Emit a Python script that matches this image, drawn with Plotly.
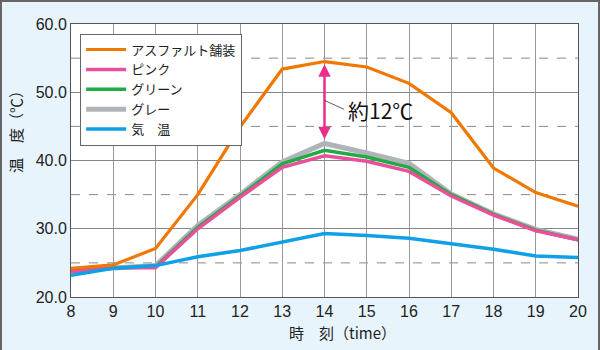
import plotly.graph_objects as go

hours = list(range(8, 21))
asphalt = [24.2, 24.7, 27.1, 35.0, 44.9, 53.4, 54.5, 53.7, 51.3, 47.0, 38.9, 35.3, 33.3]
pink = [23.7, 24.3, 24.3, 30.0, 34.6, 39.0, 40.7, 39.9, 38.4, 34.8, 32.0, 29.7, 28.4]
green = [23.8, 24.3, 24.4, 30.2, 34.8, 39.5, 41.5, 40.5, 39.0, 35.0, 32.1, 29.8, 28.4]
gray = [23.9, 24.3, 24.6, 30.5, 35.0, 39.8, 42.5, 41.1, 39.6, 35.1, 32.2, 29.9, 28.5]
air = [23.2, 24.2, 24.6, 25.9, 26.8, 28.1, 29.3, 29.0, 28.6, 27.8, 27.0, 26.0, 25.8]

names = ["アスファルト舗装", "ピンク", "グリーン", "グレー", "気　温"]
colors = ["#f07800", "#e8509a", "#22aa44", "#b0b4b8", "#10a0e8"]
widths = [3.2, 3.5, 3.5, 5, 3.5]
series = [asphalt, pink, green, gray, air]

yticks = [20, 30, 40, 50, 60]
yticklabels = ["20.0", "30.0", "40.0", "50.0", "60.0"]
dashed_levels = [25, 35, 45, 55]

fig = go.Figure()
draw_order = [3, 2, 1, 4, 0]
for i in draw_order:
    fig.add_trace(go.Scatter(
        x=hours, y=series[i], mode="lines", name=names[i],
        line=dict(color=colors[i], width=widths[i]),
        legendrank=i + 1,
    ))

W, H = 600, 350
L, R, T, B = 71, 22, 24, 53
pw, ph = W - L - R, H - T - B

shapes = []
for lv in dashed_levels:
    shapes.append(dict(type="line", xref="paper", yref="y", x0=0, x1=1, y0=lv, y1=lv,
                       line=dict(color="#888888", width=1, dash="dash"), layer="below"))
# outer frame
shapes.append(dict(type="rect", xref="paper", yref="paper",
                   x0=(1 - L) / pw, x1=(W - 1 - L) / pw,
                   y0=(B - (H - 1)) / ph, y1=(H - 1 - B) / ph,
                   line=dict(color="#666666", width=2), fillcolor="rgba(0,0,0,0)", layer="below"))

fig.update_layout(
    width=W, height=H,
    margin=dict(l=L, r=R, t=T, b=B),
    paper_bgcolor="#e8f4fc",
    plot_bgcolor="#ffffff",
    font=dict(family="Liberation Sans, Arial, sans-serif", color="#222222", size=16),
    shapes=shapes,
    showlegend=True,
    legend=dict(
        x=0.018, y=0.965, xanchor="left", yanchor="top",
        bgcolor="#ffffff", bordercolor="#666666", borderwidth=1,
        font=dict(family="Noto Sans CJK JP", size=13, color="#222222"),
        tracegroupgap=0, itemwidth=40,
    ),
    xaxis=dict(
        range=[8, 20], tickmode="array", tickvals=hours, ticktext=[str(h) for h in hours],
        showgrid=True, gridcolor="#999999", gridwidth=1,
        showline=True, linecolor="#555555", linewidth=1, mirror=True,
        ticks="", zeroline=False, tickfont=dict(size=16),
    ),
    yaxis=dict(
        range=[20, 60], tickmode="array", tickvals=yticks, ticktext=yticklabels,
        showgrid=True, gridcolor="#888888", gridwidth=1,
        showline=True, linecolor="#555555", linewidth=1, mirror=True,
        ticks="", zeroline=False, tickfont=dict(size=16),
    ),
)

# axis titles
fig.add_annotation(xref="paper", yref="paper", x=(15 - L) / pw, y=(H - B - 128) / ph,
                   xanchor="center", yanchor="middle",
                   text="温　度（℃）", textangle=-90, showarrow=False,
                   font=dict(family="Noto Sans CJK JP", size=15, color="#222222"))
fig.add_annotation(xref="paper", yref="paper", x=(342 - L) / pw, y=(H - B - 332) / ph,
                   xanchor="center", yanchor="middle",
                   text="時　刻（time）", showarrow=False,
                   font=dict(family="Noto Sans CJK JP", size=15, color="#222222"))

# double arrow at 14h
fig.add_annotation(x=14, y=asphalt[6] - 0.4, ax=14, ay=gray[6] + 0.4,
                   xref="x", yref="y", axref="x", ayref="y",
                   showarrow=True, arrowhead=2, arrowsize=1, arrowwidth=2.5, arrowcolor="#e8308a",
                   startarrowhead=2, arrowside="end+start", text="")
fig.add_annotation(x=14, y=48.8, xref="x", yref="y", ax=14.5, ay=47.4, axref="x", ayref="y",
                   showarrow=True, arrowhead=0, arrowwidth=0.8, arrowcolor="#333333", text="")
fig.add_annotation(x=14.52, y=47.4, xref="x", yref="y", xanchor="left", yanchor="middle",
                   text="約12℃", showarrow=False,
                   font=dict(family="Noto Sans CJK JP", size=21, color="#111111"))

fig.write_html("out.html")
